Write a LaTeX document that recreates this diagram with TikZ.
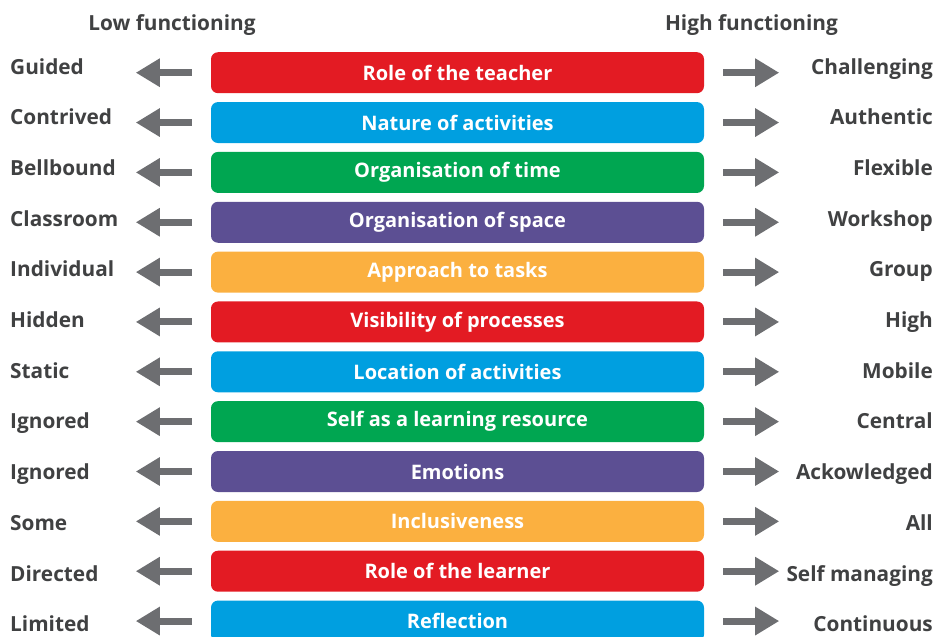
\documentclass[tikz,border=0pt]{standalone}
\usepackage{fontspec}
\setmainfont{Open Sans}
\usetikzlibrary{arrows.meta}

\definecolor{rot}{HTML}{E31B23}
\definecolor{blau}{HTML}{009FE0}
\definecolor{gruen}{HTML}{00A651}
\definecolor{lila}{HTML}{5C4F93}
\definecolor{orange}{HTML}{FBB040}
\definecolor{pfeilgrau}{HTML}{6D6E71}
\definecolor{textgrau}{HTML}{404142}

\begin{document}
\begin{tikzpicture}
		[
		x=1pt, y=-1pt, font=\bfseries\fontsize{20.8}{25}\selectfont,
		%Voreinstellungen
		balken/.style={rounded corners=7pt, minimum width=493pt, minimum height=41pt, inner sep=0pt, text=white, font=\bfseries\fontsize{20}{24}\selectfont},
		pfeil/.style={pfeilgrau, line width=7pt, -{Triangle[length=24pt, width=27pt]}},
		beschriftung/.style={text=textgrau, inner sep=0pt}
		]
		
		%Rahmen
		\useasboundingbox (0,0) rectangle (937,637);
		
		%Ueberschriften
		\node[beschriftung, anchor=base] (low) at (172,30.5) {Low functioning};
		\node[beschriftung, anchor=base] (high) at (751.5,30.5) {High functioning};
		
		%Balken, Pfeile und Begriffe
		\foreach \mitte/\farbe/\links/\rechts [count=\i from 0] in {
			Role of the teacher/rot/Guided/Challenging,
			Nature of activities/blau/Contrived/Authentic,
			Organisation of time/gruen/Bellbound/Flexible,
			Organisation of space/lila/Classroom/Workshop,
			Approach to tasks/orange/Individual/Group,
			Visibility of processes/rot/Hidden/High,
			Location of activities/blau/Static/Mobile,
			Self as a learning resource/gruen/Ignored/Central,
			Emotions/lila/Ignored/Ackowledged,
			Inclusiveness/orange/Some/All,
			Role of the learner/rot/Directed/Self managing,
			Reflection/blau/Limited/Continuous}
		{
			\pgfmathsetmacro{\yy}{72.7+49.85*\i}
			\pgfmathsetmacro{\yt}{74+50.7*\i}
			\node[balken, fill=\farbe] (b\i) at (457.5,\yy) {\mitte};
			\node[beschriftung, anchor=base west] (l\i) at (10,\yt) {\links};
			\node[beschriftung, anchor=base east] (r\i) at (933,\yt) {\rechts};
			\draw[pfeil] ([xshift=-19pt]b\i.west) -- ([xshift=-75pt]b\i.west);
			\draw[pfeil] ([xshift=19pt]b\i.east) -- ([xshift=75pt]b\i.east);
		}
		
	\end{tikzpicture}
\end{document}
